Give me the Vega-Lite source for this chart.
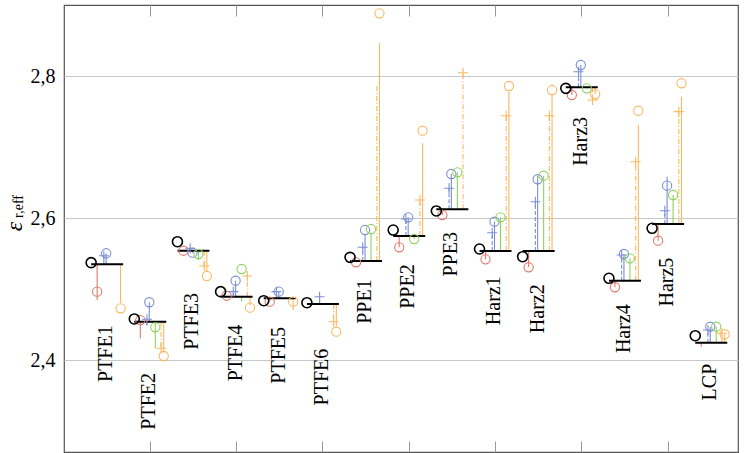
{
  "$schema": "https://vega.github.io/schema/vega-lite/v6.json",
  "width": 674,
  "height": 447,
  "autosize": "none",
  "padding": {"left": 64, "top": 5, "right": 11, "bottom": 1},
  "config": {"view": {"stroke": "#555", "strokeWidth": 1.2}, "font": "Liberation Serif"},
  "resolve": {"axis": {"x": "independent", "y": "independent"}},
  "datasets": {
    "refs": [
      {"material": "PTFE1", "circle": 2.5376, "line": 2.5353},
      {"material": "PTFE2", "circle": 2.4584, "line": 2.4546},
      {"material": "PTFE3", "circle": 2.5671, "line": 2.5544},
      {"material": "PTFE4", "circle": 2.4968, "line": 2.4897},
      {"material": "PTFE5", "circle": 2.4841, "line": 2.4875},
      {"material": "PTFE6", "circle": 2.4813, "line": 2.4795},
      {"material": "PPE1", "circle": 2.5451, "line": 2.54},
      {"material": "PPE2", "circle": 2.5835, "line": 2.5751},
      {"material": "PPE3", "circle": 2.6103, "line": 2.6127},
      {"material": "Harz1", "circle": 2.5568, "line": 2.554},
      {"material": "Harz2", "circle": 2.546, "line": 2.554},
      {"material": "Harz3", "circle": 2.7828, "line": 2.7842},
      {"material": "Harz4", "circle": 2.5156, "line": 2.5122},
      {"material": "Harz5", "circle": 2.5859, "line": 2.592},
      {"material": "LCP", "circle": 2.4349, "line": 2.425}
    ],
    "meas": [
      {"material": "PTFE1", "series": "red_o", "value": 2.4968, "stem": 2.485},
      {"material": "PTFE1", "series": "blue_plus", "value": 2.5474, "stem": 2.5474},
      {"material": "PTFE1", "series": "blue_o", "value": 2.5508, "stem": 2.5508},
      {"material": "PTFE1", "series": "orange_o", "value": 2.4734, "stem": 2.481},
      {"material": "PTFE2", "series": "red_o", "value": 2.4569, "stem": 2.431},
      {"material": "PTFE2", "series": "blue_plus", "value": 2.458, "stem": 2.447},
      {"material": "PTFE2", "series": "blue_o", "value": 2.4819, "stem": 2.4819},
      {"material": "PTFE2", "series": "green_o", "value": 2.4467, "stem": 2.4172},
      {"material": "PTFE2", "series": "orange_plus", "value": 2.4172, "stem": 2.4172},
      {"material": "PTFE2", "series": "orange_o", "value": 2.4063, "stem": 2.4105},
      {"material": "PTFE3", "series": "red_o", "value": 2.5544, "stem": 2.5544},
      {"material": "PTFE3", "series": "blue_plus", "value": 2.5578, "stem": 2.5578},
      {"material": "PTFE3", "series": "blue_o", "value": 2.5516, "stem": 2.5516},
      {"material": "PTFE3", "series": "green_o", "value": 2.5498, "stem": 2.5413},
      {"material": "PTFE3", "series": "orange_plus", "value": 2.5329, "stem": 2.5329},
      {"material": "PTFE3", "series": "orange_o", "value": 2.5188, "stem": 2.5249},
      {"material": "PTFE4", "series": "red_o", "value": 2.4911, "stem": 2.4911},
      {"material": "PTFE4", "series": "blue_plus", "value": 2.4968, "stem": 2.4968},
      {"material": "PTFE4", "series": "blue_o", "value": 2.5122, "stem": 2.5122},
      {"material": "PTFE4", "series": "green_o", "value": 2.5287, "stem": 2.483},
      {"material": "PTFE4", "series": "orange_plus", "value": 2.5188, "stem": 2.52},
      {"material": "PTFE4", "series": "orange_o", "value": 2.4743, "stem": 2.478},
      {"material": "PTFE5", "series": "red_o", "value": 2.4827, "stem": 2.4827},
      {"material": "PTFE5", "series": "blue_plus", "value": 2.4968, "stem": 2.4968},
      {"material": "PTFE5", "series": "blue_o", "value": 2.4968, "stem": 2.4968},
      {"material": "PTFE5", "series": "orange_o", "value": 2.4827, "stem": 2.471},
      {"material": "PTFE6", "series": "blue_plus", "value": 2.4897, "stem": 2.4897},
      {"material": "PTFE6", "series": "orange_plus", "value": 2.4546, "stem": 2.4546},
      {"material": "PTFE6", "series": "orange_o", "value": 2.4405, "stem": 2.448},
      {"material": "PPE1", "series": "red_o", "value": 2.5381, "stem": 2.5381},
      {"material": "PPE1", "series": "blue_plus", "value": 2.5592, "stem": 2.5592},
      {"material": "PPE1", "series": "blue_o", "value": 2.5835, "stem": 2.5765},
      {"material": "PPE1", "series": "green_o", "value": 2.5849, "stem": 2.5789},
      {"material": "PPE1", "series": "orange_plus", "value": null, "stem": 2.7875},
      {"material": "PPE1", "series": "orange_o", "value": 2.8883, "stem": 2.8461},
      {"material": "PPE2", "series": "red_o", "value": 2.5592, "stem": 2.5592},
      {"material": "PPE2", "series": "blue_plus", "value": 2.599, "stem": 2.599},
      {"material": "PPE2", "series": "blue_o", "value": 2.6014, "stem": 2.6014},
      {"material": "PPE2", "series": "green_o", "value": 2.5709, "stem": 2.5709},
      {"material": "PPE2", "series": "orange_plus", "value": 2.6257, "stem": 2.6257},
      {"material": "PPE2", "series": "orange_o", "value": 2.7232, "stem": 2.7055},
      {"material": "PPE3", "series": "red_o", "value": 2.6046, "stem": 2.6046},
      {"material": "PPE3", "series": "blue_plus", "value": 2.6422, "stem": 2.6422},
      {"material": "PPE3", "series": "blue_o", "value": 2.6623, "stem": 2.6623},
      {"material": "PPE3", "series": "green_o", "value": 2.6647, "stem": 2.6647},
      {"material": "PPE3", "series": "orange_plus", "value": 2.8048, "stem": 2.8048},
      {"material": "Harz1", "series": "red_o", "value": 2.5423, "stem": 2.5423},
      {"material": "Harz1", "series": "blue_plus", "value": 2.5797, "stem": 2.5797},
      {"material": "Harz1", "series": "blue_o", "value": 2.5952, "stem": 2.5952},
      {"material": "Harz1", "series": "green_o", "value": 2.6014, "stem": 2.6014},
      {"material": "Harz1", "series": "orange_plus", "value": 2.7443, "stem": 2.7443},
      {"material": "Harz1", "series": "orange_o", "value": 2.7861, "stem": 2.778},
      {"material": "Harz2", "series": "red_o", "value": 2.5311, "stem": 2.5311},
      {"material": "Harz2", "series": "blue_plus", "value": 2.6233, "stem": 2.6233},
      {"material": "Harz2", "series": "blue_o", "value": 2.6549, "stem": 2.66},
      {"material": "Harz2", "series": "green_o", "value": 2.6599, "stem": 2.6599},
      {"material": "Harz2", "series": "orange_plus", "value": 2.7443, "stem": 2.7443},
      {"material": "Harz2", "series": "orange_o", "value": 2.7804, "stem": 2.7734},
      {"material": "Harz3", "series": "red_o", "value": 2.7734, "stem": 2.7734},
      {"material": "Harz3", "series": "blue_plus", "value": 2.8062, "stem": 2.8062},
      {"material": "Harz3", "series": "blue_o", "value": 2.8156, "stem": 2.8156},
      {"material": "Harz3", "series": "green_o", "value": 2.7828, "stem": 2.7828},
      {"material": "Harz3", "series": "orange_plus", "value": 2.7664, "stem": 2.7664},
      {"material": "Harz3", "series": "orange_o", "value": 2.7744, "stem": 2.7744},
      {"material": "Harz4", "series": "red_o", "value": 2.503, "stem": 2.503},
      {"material": "Harz4", "series": "blue_plus", "value": 2.5484, "stem": 2.5484},
      {"material": "Harz4", "series": "blue_o", "value": 2.5498, "stem": 2.5498},
      {"material": "Harz4", "series": "green_o", "value": 2.5437, "stem": 2.5437},
      {"material": "Harz4", "series": "orange_plus", "value": 2.6796, "stem": 2.6796},
      {"material": "Harz4", "series": "orange_o", "value": 2.7513, "stem": 2.7312},
      {"material": "Harz5", "series": "red_o", "value": 2.5685, "stem": 2.5685},
      {"material": "Harz5", "series": "blue_plus", "value": 2.6107, "stem": 2.6107},
      {"material": "Harz5", "series": "blue_o", "value": 2.6459, "stem": 2.6585},
      {"material": "Harz5", "series": "green_o", "value": 2.6328, "stem": 2.6328},
      {"material": "Harz5", "series": "orange_plus", "value": 2.75, "stem": 2.75},
      {"material": "Harz5", "series": "orange_o", "value": 2.7899, "stem": 2.771},
      {"material": "LCP", "series": "red_o", "value": null, "stem": 2.4194},
      {"material": "LCP", "series": "blue_plus", "value": 2.4429, "stem": 2.4429},
      {"material": "LCP", "series": "blue_o", "value": 2.4475, "stem": 2.4475},
      {"material": "LCP", "series": "green_o", "value": 2.4475, "stem": 2.4475},
      {"material": "LCP", "series": "orange_plus", "value": 2.4383, "stem": 2.4383},
      {"material": "LCP", "series": "orange_o", "value": 2.4369, "stem": 2.4369}
    ]
  },
  "layer": [
    {
      "data": {"name": "meas"},
      "transform": [
        {"filter": {"field": "series", "equal": "red_o"}},
        {"lookup": "material", "from": {"data": {"name": "refs"}, "key": "material", "fields": ["line"]}}
      ],
      "mark": {"type": "rule", "color": "#e07a6b", "strokeWidth": 1.1, "opacity": 1, "xOffset": -10},
      "encoding": {
        "x": {"field": "material", "type": "nominal", "sort": ["PTFE1","PTFE2","PTFE3","PTFE4","PTFE5","PTFE6","PPE1","PPE2","PPE3","Harz1","Harz2","Harz3","Harz4","Harz5","LCP"], "scale": {"domain": ["PTFE1","PTFE2","PTFE3","PTFE4","PTFE5","PTFE6","PPE1","PPE2","PPE3","Harz1","Harz2","Harz3","Harz4","Harz5","LCP"], "paddingInner": 0, "paddingOuter": 0.31, "align": 0.8065}, "axis": null},
        "y": {"field": "line", "type": "quantitative", "scale": {"domain": [2.2713, 2.9], "nice": false, "zero": false}, "axis": null},
        "y2": {"field": "stem"}
      }
    },
    {
      "data": {"name": "meas"},
      "transform": [
        {"filter": {"field": "series", "equal": "blue_plus"}},
        {"lookup": "material", "from": {"data": {"name": "refs"}, "key": "material", "fields": ["line"]}}
      ],
      "mark": {"type": "rule", "color": "#7b8ed6", "strokeWidth": 1.1, "opacity": 1, "strokeDash": [4, 2], "xOffset": -3.3},
      "encoding": {
        "x": {"field": "material", "type": "nominal", "sort": ["PTFE1","PTFE2","PTFE3","PTFE4","PTFE5","PTFE6","PPE1","PPE2","PPE3","Harz1","Harz2","Harz3","Harz4","Harz5","LCP"], "scale": {"domain": ["PTFE1","PTFE2","PTFE3","PTFE4","PTFE5","PTFE6","PPE1","PPE2","PPE3","Harz1","Harz2","Harz3","Harz4","Harz5","LCP"], "paddingInner": 0, "paddingOuter": 0.31, "align": 0.8065}, "axis": null},
        "y": {"field": "line", "type": "quantitative", "scale": {"domain": [2.2713, 2.9], "nice": false, "zero": false}, "axis": null},
        "y2": {"field": "stem"}
      }
    },
    {
      "data": {"name": "meas"},
      "transform": [
        {"filter": {"field": "series", "equal": "blue_o"}},
        {"lookup": "material", "from": {"data": {"name": "refs"}, "key": "material", "fields": ["line"]}}
      ],
      "mark": {"type": "rule", "color": "#7b8ed6", "strokeWidth": 1.1, "opacity": 1, "xOffset": -1},
      "encoding": {
        "x": {"field": "material", "type": "nominal", "sort": ["PTFE1","PTFE2","PTFE3","PTFE4","PTFE5","PTFE6","PPE1","PPE2","PPE3","Harz1","Harz2","Harz3","Harz4","Harz5","LCP"], "scale": {"domain": ["PTFE1","PTFE2","PTFE3","PTFE4","PTFE5","PTFE6","PPE1","PPE2","PPE3","Harz1","Harz2","Harz3","Harz4","Harz5","LCP"], "paddingInner": 0, "paddingOuter": 0.31, "align": 0.8065}, "axis": null},
        "y": {"field": "line", "type": "quantitative", "scale": {"domain": [2.2713, 2.9], "nice": false, "zero": false}, "axis": null},
        "y2": {"field": "stem"}
      }
    },
    {
      "data": {"name": "meas"},
      "transform": [
        {"filter": {"field": "series", "equal": "green_o"}},
        {"lookup": "material", "from": {"data": {"name": "refs"}, "key": "material", "fields": ["line"]}}
      ],
      "mark": {"type": "rule", "color": "#8ed35b", "strokeWidth": 1.1, "opacity": 1, "xOffset": 5},
      "encoding": {
        "x": {"field": "material", "type": "nominal", "sort": ["PTFE1","PTFE2","PTFE3","PTFE4","PTFE5","PTFE6","PPE1","PPE2","PPE3","Harz1","Harz2","Harz3","Harz4","Harz5","LCP"], "scale": {"domain": ["PTFE1","PTFE2","PTFE3","PTFE4","PTFE5","PTFE6","PPE1","PPE2","PPE3","Harz1","Harz2","Harz3","Harz4","Harz5","LCP"], "paddingInner": 0, "paddingOuter": 0.31, "align": 0.8065}, "axis": null},
        "y": {"field": "line", "type": "quantitative", "scale": {"domain": [2.2713, 2.9], "nice": false, "zero": false}, "axis": null},
        "y2": {"field": "stem"}
      }
    },
    {
      "data": {"name": "meas"},
      "transform": [
        {"filter": {"field": "series", "equal": "orange_plus"}},
        {"lookup": "material", "from": {"data": {"name": "refs"}, "key": "material", "fields": ["line"]}}
      ],
      "mark": {"type": "rule", "color": "#fbb860", "strokeWidth": 1.1, "opacity": 1, "strokeDash": [5, 2, 1, 2], "xOffset": 10.7},
      "encoding": {
        "x": {"field": "material", "type": "nominal", "sort": ["PTFE1","PTFE2","PTFE3","PTFE4","PTFE5","PTFE6","PPE1","PPE2","PPE3","Harz1","Harz2","Harz3","Harz4","Harz5","LCP"], "scale": {"domain": ["PTFE1","PTFE2","PTFE3","PTFE4","PTFE5","PTFE6","PPE1","PPE2","PPE3","Harz1","Harz2","Harz3","Harz4","Harz5","LCP"], "paddingInner": 0, "paddingOuter": 0.31, "align": 0.8065}, "axis": null},
        "y": {"field": "line", "type": "quantitative", "scale": {"domain": [2.2713, 2.9], "nice": false, "zero": false}, "axis": null},
        "y2": {"field": "stem"}
      }
    },
    {
      "data": {"name": "meas"},
      "transform": [
        {"filter": {"field": "series", "equal": "orange_o"}},
        {"lookup": "material", "from": {"data": {"name": "refs"}, "key": "material", "fields": ["line"]}}
      ],
      "mark": {"type": "rule", "color": "#fbb860", "strokeWidth": 1.1, "opacity": 1, "xOffset": 13.4},
      "encoding": {
        "x": {"field": "material", "type": "nominal", "sort": ["PTFE1","PTFE2","PTFE3","PTFE4","PTFE5","PTFE6","PPE1","PPE2","PPE3","Harz1","Harz2","Harz3","Harz4","Harz5","LCP"], "scale": {"domain": ["PTFE1","PTFE2","PTFE3","PTFE4","PTFE5","PTFE6","PPE1","PPE2","PPE3","Harz1","Harz2","Harz3","Harz4","Harz5","LCP"], "paddingInner": 0, "paddingOuter": 0.31, "align": 0.8065}, "axis": null},
        "y": {"field": "line", "type": "quantitative", "scale": {"domain": [2.2713, 2.9], "nice": false, "zero": false}, "axis": null},
        "y2": {"field": "stem"}
      }
    },
    {
      "data": {"name": "refs"},
      "mark": {"type": "tick", "orient": "horizontal", "color": "#000", "size": 32, "thickness": 2, "opacity": 1},
      "encoding": {
        "x": {"field": "material", "type": "nominal", "sort": ["PTFE1","PTFE2","PTFE3","PTFE4","PTFE5","PTFE6","PPE1","PPE2","PPE3","Harz1","Harz2","Harz3","Harz4","Harz5","LCP"], "scale": {"domain": ["PTFE1","PTFE2","PTFE3","PTFE4","PTFE5","PTFE6","PPE1","PPE2","PPE3","Harz1","Harz2","Harz3","Harz4","Harz5","LCP"], "paddingInner": 0, "paddingOuter": 0.31, "align": 0.8065},
          "axis": {"orient": "bottom", "values": ["PTFE2","PTFE4","PTFE6","PPE2","Harz1","Harz3","Harz5"], "labels": false, "domain": false, "ticks": true, "tickSize": -11, "tickColor": "#999", "tickWidth": 1, "grid": false, "title": null}},
        "y": {"field": "line", "type": "quantitative", "scale": {"domain": [2.2713, 2.9], "nice": false, "zero": false},
          "axis": {"orient": "left", "values": [2.4, 2.6, 2.8], "grid": true, "gridColor": "#c8c8c8", "gridWidth": 1, "ticks": false, "domain": false,
            "labelExpr": "replace(format(datum.value, '.1f'), '.', ',')", "labelFont": "Liberation Serif", "labelFontSize": 20, "labelColor": "#000", "labelPadding": 9,
            "title": "ε", "titleFont": "Liberation Serif", "titleFontStyle": "italic", "titleFontWeight": "normal", "titleFontSize": 24, "titleColor": "#000",
            "titleX": -50, "titleY": 221, "titleAngle": 270, "titleAlign": "center", "titleBaseline": "middle"}}
      }
    },
    {
      "data": {"name": "meas"},
      "transform": [{"filter": {"field": "series", "equal": "red_o"}}],
      "mark": {"type": "point", "shape": "circle", "filled": false, "size": 85, "strokeWidth": 1.1, "color": "#e07a6b", "opacity": 1, "xOffset": -10},
      "encoding": {
        "x": {"field": "material", "type": "nominal", "sort": ["PTFE1","PTFE2","PTFE3","PTFE4","PTFE5","PTFE6","PPE1","PPE2","PPE3","Harz1","Harz2","Harz3","Harz4","Harz5","LCP"], "scale": {"domain": ["PTFE1","PTFE2","PTFE3","PTFE4","PTFE5","PTFE6","PPE1","PPE2","PPE3","Harz1","Harz2","Harz3","Harz4","Harz5","LCP"], "paddingInner": 0, "paddingOuter": 0.31, "align": 0.8065}, "axis": null},
        "y": {"field": "value", "type": "quantitative", "scale": {"domain": [2.2713, 2.9], "nice": false, "zero": false}, "axis": null}
      }
    },
    {
      "data": {"name": "meas"},
      "transform": [{"filter": {"field": "series", "equal": "blue_plus"}}],
      "mark": {"type": "point", "shape": "M-1,0H1M0,-1V1", "filled": false, "size": 100, "strokeWidth": 1.1, "color": "#7b8ed6", "opacity": 1, "xOffset": -3.3},
      "encoding": {
        "x": {"field": "material", "type": "nominal", "sort": ["PTFE1","PTFE2","PTFE3","PTFE4","PTFE5","PTFE6","PPE1","PPE2","PPE3","Harz1","Harz2","Harz3","Harz4","Harz5","LCP"], "scale": {"domain": ["PTFE1","PTFE2","PTFE3","PTFE4","PTFE5","PTFE6","PPE1","PPE2","PPE3","Harz1","Harz2","Harz3","Harz4","Harz5","LCP"], "paddingInner": 0, "paddingOuter": 0.31, "align": 0.8065}, "axis": null},
        "y": {"field": "value", "type": "quantitative", "scale": {"domain": [2.2713, 2.9], "nice": false, "zero": false}, "axis": null}
      }
    },
    {
      "data": {"name": "meas"},
      "transform": [{"filter": {"field": "series", "equal": "blue_o"}}],
      "mark": {"type": "point", "shape": "circle", "filled": false, "size": 85, "strokeWidth": 1.1, "color": "#7b8ed6", "opacity": 1, "xOffset": -1},
      "encoding": {
        "x": {"field": "material", "type": "nominal", "sort": ["PTFE1","PTFE2","PTFE3","PTFE4","PTFE5","PTFE6","PPE1","PPE2","PPE3","Harz1","Harz2","Harz3","Harz4","Harz5","LCP"], "scale": {"domain": ["PTFE1","PTFE2","PTFE3","PTFE4","PTFE5","PTFE6","PPE1","PPE2","PPE3","Harz1","Harz2","Harz3","Harz4","Harz5","LCP"], "paddingInner": 0, "paddingOuter": 0.31, "align": 0.8065}, "axis": null},
        "y": {"field": "value", "type": "quantitative", "scale": {"domain": [2.2713, 2.9], "nice": false, "zero": false}, "axis": null}
      }
    },
    {
      "data": {"name": "meas"},
      "transform": [{"filter": {"field": "series", "equal": "green_o"}}],
      "mark": {"type": "point", "shape": "circle", "filled": false, "size": 85, "strokeWidth": 1.1, "color": "#8ed35b", "opacity": 1, "xOffset": 5},
      "encoding": {
        "x": {"field": "material", "type": "nominal", "sort": ["PTFE1","PTFE2","PTFE3","PTFE4","PTFE5","PTFE6","PPE1","PPE2","PPE3","Harz1","Harz2","Harz3","Harz4","Harz5","LCP"], "scale": {"domain": ["PTFE1","PTFE2","PTFE3","PTFE4","PTFE5","PTFE6","PPE1","PPE2","PPE3","Harz1","Harz2","Harz3","Harz4","Harz5","LCP"], "paddingInner": 0, "paddingOuter": 0.31, "align": 0.8065}, "axis": null},
        "y": {"field": "value", "type": "quantitative", "scale": {"domain": [2.2713, 2.9], "nice": false, "zero": false}, "axis": null}
      }
    },
    {
      "data": {"name": "meas"},
      "transform": [{"filter": {"field": "series", "equal": "orange_plus"}}],
      "mark": {"type": "point", "shape": "M-1,0H1M0,-1V1", "filled": false, "size": 100, "strokeWidth": 1.1, "color": "#fbb860", "opacity": 1, "xOffset": 10.7},
      "encoding": {
        "x": {"field": "material", "type": "nominal", "sort": ["PTFE1","PTFE2","PTFE3","PTFE4","PTFE5","PTFE6","PPE1","PPE2","PPE3","Harz1","Harz2","Harz3","Harz4","Harz5","LCP"], "scale": {"domain": ["PTFE1","PTFE2","PTFE3","PTFE4","PTFE5","PTFE6","PPE1","PPE2","PPE3","Harz1","Harz2","Harz3","Harz4","Harz5","LCP"], "paddingInner": 0, "paddingOuter": 0.31, "align": 0.8065}, "axis": null},
        "y": {"field": "value", "type": "quantitative", "scale": {"domain": [2.2713, 2.9], "nice": false, "zero": false}, "axis": null}
      }
    },
    {
      "data": {"name": "meas"},
      "transform": [{"filter": {"field": "series", "equal": "orange_o"}}],
      "mark": {"type": "point", "shape": "circle", "filled": false, "size": 85, "strokeWidth": 1.1, "color": "#fbb860", "opacity": 1, "xOffset": 13.4},
      "encoding": {
        "x": {"field": "material", "type": "nominal", "sort": ["PTFE1","PTFE2","PTFE3","PTFE4","PTFE5","PTFE6","PPE1","PPE2","PPE3","Harz1","Harz2","Harz3","Harz4","Harz5","LCP"], "scale": {"domain": ["PTFE1","PTFE2","PTFE3","PTFE4","PTFE5","PTFE6","PPE1","PPE2","PPE3","Harz1","Harz2","Harz3","Harz4","Harz5","LCP"], "paddingInner": 0, "paddingOuter": 0.31, "align": 0.8065}, "axis": null},
        "y": {"field": "value", "type": "quantitative", "scale": {"domain": [2.2713, 2.9], "nice": false, "zero": false}, "axis": null}
      }
    },
    {
      "data": {"name": "refs"},
      "mark": {"type": "point", "shape": "circle", "filled": false, "size": 100, "strokeWidth": 1.6, "color": "#000", "opacity": 1, "xOffset": -16},
      "encoding": {
        "x": {"field": "material", "type": "nominal", "sort": ["PTFE1","PTFE2","PTFE3","PTFE4","PTFE5","PTFE6","PPE1","PPE2","PPE3","Harz1","Harz2","Harz3","Harz4","Harz5","LCP"], "scale": {"domain": ["PTFE1","PTFE2","PTFE3","PTFE4","PTFE5","PTFE6","PPE1","PPE2","PPE3","Harz1","Harz2","Harz3","Harz4","Harz5","LCP"], "paddingInner": 0, "paddingOuter": 0.31, "align": 0.8065},
          "axis": {"orient": "top", "values": ["PTFE2","PTFE4","PTFE6","PPE2","Harz1","Harz3","Harz5"], "labels": false, "domain": false, "ticks": true, "tickSize": -11, "tickColor": "#999", "tickWidth": 1, "grid": false, "title": null}},
        "y": {"field": "circle", "type": "quantitative", "scale": {"domain": [2.2713, 2.9], "nice": false, "zero": false},
          "axis": {"orient": "right", "grid": false, "ticks": false, "labels": false, "domain": false,
            "title": "r,eff", "titleFont": "Liberation Serif", "titleFontWeight": "normal", "titleFontSize": 14, "titleColor": "#000",
            "titleX": -720, "titleY": 201, "titleAngle": 270, "titleAlign": "center", "titleBaseline": "middle"}}
      }
    },
    {
      "data": {"name": "meas"},
      "transform": [
        {"fold": ["value", "stem"], "as": ["k", "v"]},
        {"aggregate": [{"op": "min", "field": "v", "as": "vmin"}], "groupby": ["material"]}
      ],
      "mark": {"type": "text", "angle": 270, "align": "right", "baseline": "middle", "dx": -17, "xOffset": -1, "font": "Liberation Serif", "fontSize": 20, "color": "#000"},
      "encoding": {
        "x": {"field": "material", "type": "nominal", "sort": ["PTFE1","PTFE2","PTFE3","PTFE4","PTFE5","PTFE6","PPE1","PPE2","PPE3","Harz1","Harz2","Harz3","Harz4","Harz5","LCP"], "scale": {"domain": ["PTFE1","PTFE2","PTFE3","PTFE4","PTFE5","PTFE6","PPE1","PPE2","PPE3","Harz1","Harz2","Harz3","Harz4","Harz5","LCP"], "paddingInner": 0, "paddingOuter": 0.31, "align": 0.8065}, "axis": null},
        "y": {"field": "vmin", "type": "quantitative", "scale": {"domain": [2.2713, 2.9], "nice": false, "zero": false}, "axis": null},
        "text": {"field": "material"}
      }
    }
  ]
}
